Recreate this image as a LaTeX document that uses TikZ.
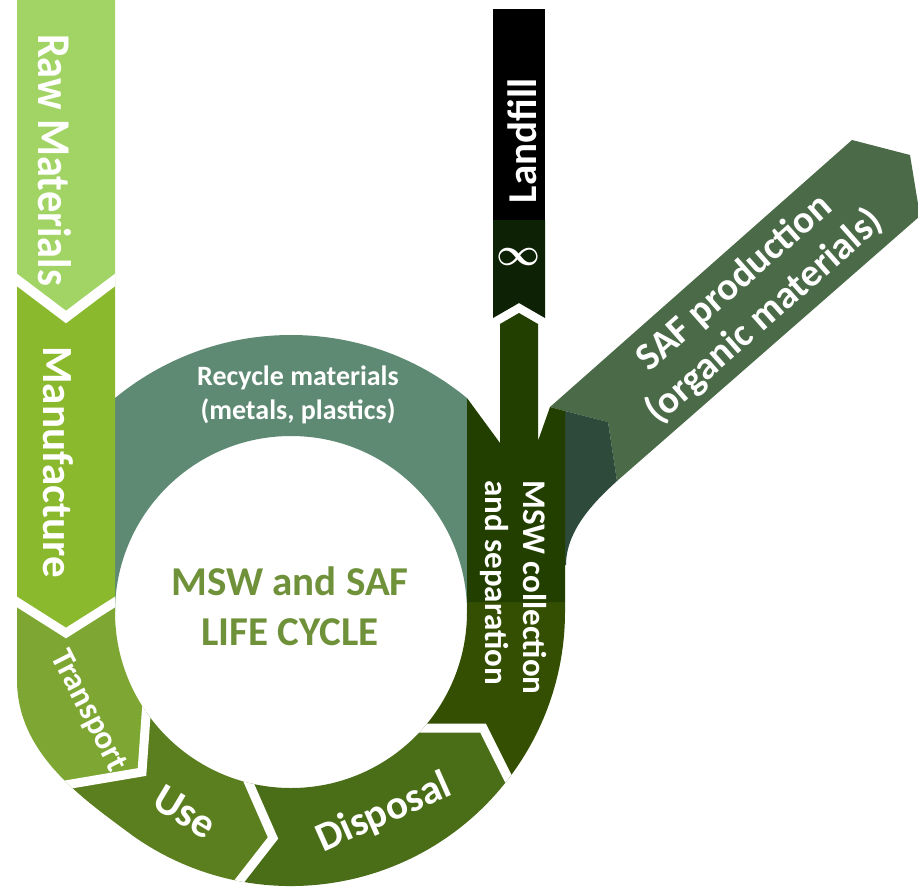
\documentclass[tikz,border=0pt]{standalone}
\usepackage{fontspec}
\usepackage{graphicx}
\setmainfont{Carlito}
\usetikzlibrary{calc}
\definecolor{rawc}{HTML}{A1D465}
\definecolor{manc}{HTML}{8BB92E}
\definecolor{trac}{HTML}{7DA632}
\definecolor{usec}{HTML}{5B7E1E}
\definecolor{disc}{HTML}{4A6D18}
\definecolor{mswl}{HTML}{344F02}
\definecolor{mswu}{HTML}{223F00}
\definecolor{infc}{HTML}{0D2104}
\definecolor{tealc}{HTML}{5E8A73}
\definecolor{safc}{HTML}{4A6A48}
\definecolor{filc}{HTML}{2D4A3B}
\definecolor{titc}{HTML}{6F913A}
\begin{document}
\begin{tikzpicture}[x=1pt,y=-1pt,
  gapline/.style={draw=white, line width=9pt},
  wtxt/.style={text=white, inner sep=0pt},
]
\useasboundingbox (0,0) rectangle (918,887);
\clip (0,0) rectangle (918,887);
\fill[white] (0,0) rectangle (918,887);

\coordinate (C) at (291,612);
% chevron points
\coordinate (AL) at (17,280);  \coordinate (AT) at (66,317);  \coordinate (AR) at (115,280);
\coordinate (BL) at (17,602);  \coordinate (BT) at (66,633);  \coordinate (BR) at (115,602);
\coordinate (CI) at (146,716); \coordinate (CT) at (142,772); \coordinate (CO) at (77,783);
\coordinate (DI) at (248,781); \coordinate (DT) at (273,838); \coordinate (DO) at (241,879);
\coordinate (EI) at (426,728); \coordinate (ET) at (483,728); \coordinate (EO) at (508,778);
\coordinate (ALx) at ($(AT)!2!(AL)$); \coordinate (ARx) at ($(AT)!2!(AR)$);
\coordinate (BLx) at ($(BT)!2!(BL)$); \coordinate (BRx) at ($(BT)!2!(BR)$);
\coordinate (CIx) at ($(CT)!2!(CI)$); \coordinate (COx) at ($(CT)!2!(CO)$);
\coordinate (DIx) at ($(DT)!2!(DI)$); \coordinate (DOx) at ($(DT)!2!(DO)$);
\coordinate (EIx) at ($(ET)!2!(EI)$); \coordinate (EOx) at ($(ET)!2!(EO)$);

% recycle ring
\begin{scope}
  \clip (115,0) rectangle (467,612);
  \fill[tealc] ($(C)+(180:277)$) arc[start angle=180,end angle=360,radius=277]
     -- ($(C)+(0:176)$) arc[start angle=360,end angle=180,radius=176] -- cycle;
\end{scope}

% SAF arrow and its fillet
\fill[safc] (550,407) -- (852,140) -- (910,155) -- (920,216) -- (617,481) -- (608,422) -- (565,411) -- cycle;
\fill[filc] (565,411) -- (608,422) -- (617,481) .. controls (595,501) and (566,530) .. (566,565)
   -- (560,565) -- (560,411) -- cycle;

% main U band
\begin{scope}
  \clip (17,0) -- (17,680) .. controls (17,755) and (85,800) .. ($(C)+(125:274)$)
     arc[start angle=125,end angle=0,radius=274] -- (565,300) -- (467,300)
     -- (467,612) arc[start angle=0,end angle=180,radius=176] -- (115,0) -- cycle;
  \fill[rawc] (-50,-50) -- (200,-50) -- (ARx) -- (AT) -- (ALx) -- cycle;
  \fill[manc] (ALx) -- (AT) -- (ARx) -- (BRx) -- (BT) -- (BLx) -- cycle;
  \fill[trac] (BLx) -- (BT) -- (BRx) -- (CIx) -- (CT) -- (COx) -- (-50,794) -- (-50,571) -- cycle;
  \fill[usec] (CIx) -- (CT) -- (COx) -- (-50,900) -- (150,1000) -- (DOx) -- (DT) -- (DIx) -- cycle;
  \fill[disc] (DIx) -- (DT) -- (DOx) -- (300,1000) -- (650,900) -- (EOx) -- (ET) -- (EIx) -- cycle;
  \fill[mswl] (EIx) -- (ET) -- (EOx) -- (700,850) -- (700,602) -- (300,602) -- cycle;
  \draw[gapline, line width=10pt] (ALx) -- (AT) -- (ARx);
  \draw[gapline] (BLx) -- (BT) -- (BRx);
  \draw[gapline] (COx) -- (CT) -- (CIx);
  \draw[gapline] (DOx) -- (DT) -- (DIx);
  \draw[gapline] (EOx) -- (ET) -- (EIx);
\end{scope}

% MSW collection bar with upward shaft
\fill[mswu] (467,602) -- (467,398) -- (500,443) -- (500,324) -- (519,313) -- (538,324)
   -- (538,441) -- (550,407) -- (565,411) -- (565,602) -- cycle;
% infinity block and landfill
\fill[infc] (493,220) -- (545,220) -- (545,318) -- (519,303) -- (493,318) -- cycle;
\fill[black] (493,9) rectangle (545,220);

% labels
\node[wtxt, rotate=-90, anchor=base, font=\fontsize{47}{47}\selectfont\bfseries] (raw) at (38,160) {\scalebox{0.9}[1]{Raw Materials}};
\node[wtxt, rotate=-90, anchor=base, font=\fontsize{43}{43}\selectfont\bfseries] (man) at (43,462) {Manufacture};
\node[wtxt, rotate=-63, font=\fontsize{33}{33}\selectfont\bfseries] (tra) at (88,711) {Transport};
\node[wtxt, rotate=-31, font=\fontsize{42}{42}\selectfont\bfseries] (use) at (185,812) {Use};
\node[wtxt, rotate=24, font=\fontsize{41}{41}\selectfont\bfseries] (dis) at (384,813) {Disposal};
\node[wtxt, rotate=-90, anchor=base west, font=\fontsize{33}{33}\selectfont\bfseries] (msw1) at (523,480) {MSW collection};
\node[wtxt, rotate=-90, anchor=base west, font=\fontsize{33}{33}\selectfont\bfseries] (msw2) at (485,480) {and separation};
\node[wtxt, rotate=90, anchor=base, font=\fontsize{41}{41}\selectfont\bfseries] (land) at (536,141) {Landfill};
\node[wtxt] (inf) at (519,257) {\resizebox{44pt}{!}{\boldmath$\infty$}};
\node[wtxt, rotate=41.5, align=center, font=\fontsize{39}{45}\selectfont\bfseries] (saf) at (750,300) {SAF production\\(organic materials)};
\node[wtxt, align=center, font=\fontsize{28}{34}\selectfont\bfseries] (rec) at (298,395) {Recycle materials\\(metals, plastics)};
\node[text=titc, inner sep=0pt, align=center, font=\fontsize{41}{50}\selectfont\bfseries] (title) at (290,606) {MSW and SAF\\LIFE CYCLE};
\end{tikzpicture}
\end{document}
